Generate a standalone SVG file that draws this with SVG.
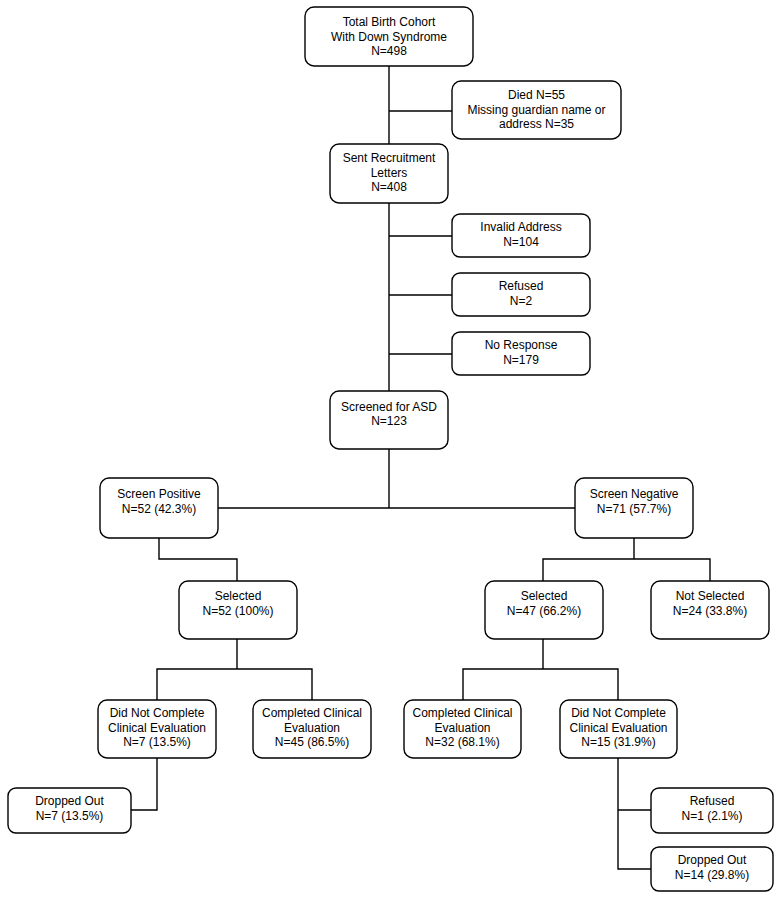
<svg xmlns="http://www.w3.org/2000/svg" width="783" height="901" viewBox="0 0 783 901">
<style>
rect.b{fill:#fff;stroke:#000;stroke-width:1.4}
.c path{fill:none;stroke:#000;stroke-width:1.4}
text{font-family:"Liberation Sans",Arial,sans-serif;font-size:12px;fill:#000;text-anchor:middle}
</style>
<rect width="783" height="901" fill="#fff"/>
<g class="c" id="connectors">
<path d="M389 66V508"/>
<path d="M389 111H452"/>
<path d="M389 236H452M389 295H452M389 354H452"/>
<path d="M218 508H575"/>
<path d="M159 538V559H237V581"/>
<path d="M634 538V559M543 581V559H710V581"/>
<path d="M237 639V669M157 700V669H312V700"/>
<path d="M543 639V669M463 700V669H618V700"/>
<path d="M157 758V810H131"/>
<path d="M618 758V869H651M618 810H651"/>
</g>
<g id="n_total"><rect class="b" x="305" y="7" width="168" height="59" rx="9"/><text x="389" y="26">Total Birth Cohort</text><text x="389" y="40.5">With Down Syndrome</text><text x="389" y="55">N=498</text></g>
<g id="n_died"><rect class="b" x="452" y="81" width="169" height="58" rx="9"/><text x="536.5" y="99">Died N=55</text><text x="536.5" y="113.5">Missing guardian name or</text><text x="536.5" y="128">address N=35</text></g>
<g id="n_sent"><rect class="b" x="330" y="144" width="118" height="59" rx="9"/><text x="389" y="162">Sent Recruitment</text><text x="389" y="176.5">Letters</text><text x="389" y="191">N=408</text></g>
<g id="n_invalid"><rect class="b" x="452" y="214" width="138" height="43" rx="8"/><text x="521" y="231">Invalid Address</text><text x="521" y="245.5">N=104</text></g>
<g id="n_refused1"><rect class="b" x="452" y="273" width="138" height="43" rx="8"/><text x="521" y="290">Refused</text><text x="521" y="304.5">N=2</text></g>
<g id="n_noresp"><rect class="b" x="452" y="332" width="138" height="43" rx="8"/><text x="521" y="349">No Response</text><text x="521" y="363.5">N=179</text></g>
<g id="n_screened"><rect class="b" x="330" y="391" width="118" height="58" rx="9"/><text x="389" y="411">Screened for ASD</text><text x="389" y="425">N=123</text></g>
<g id="n_pos"><rect class="b" x="100" y="478" width="118" height="60" rx="9"/><text x="159" y="498">Screen Positive</text><text x="159" y="512.5">N=52 (42.3%)</text></g>
<g id="n_neg"><rect class="b" x="575" y="478" width="118" height="60" rx="9"/><text x="634" y="498">Screen Negative</text><text x="634" y="512.5">N=71 (57.7%)</text></g>
<g id="n_sel1"><rect class="b" x="179" y="581" width="118" height="58" rx="9"/><text x="238" y="600">Selected</text><text x="238" y="614.5">N=52 (100%)</text></g>
<g id="n_sel2"><rect class="b" x="485" y="581" width="118" height="58" rx="9"/><text x="544" y="600">Selected</text><text x="544" y="614.5">N=47 (66.2%)</text></g>
<g id="n_notsel"><rect class="b" x="651" y="581" width="118" height="58" rx="9"/><text x="710" y="600">Not Selected</text><text x="710" y="614.5">N=24 (33.8%)</text></g>
<g id="n_dnc1"><rect class="b" x="98" y="700" width="118" height="58" rx="9"/><text x="157" y="717">Did Not Complete</text><text x="157" y="731.5">Clinical Evaluation</text><text x="157" y="746">N=7 (13.5%)</text></g>
<g id="n_comp1"><rect class="b" x="253" y="700" width="118" height="58" rx="9"/><text x="312" y="717">Completed Clinical</text><text x="312" y="731.5">Evaluation</text><text x="312" y="746">N=45 (86.5%)</text></g>
<g id="n_comp2"><rect class="b" x="404" y="700" width="117" height="58" rx="9"/><text x="462.5" y="717">Completed Clinical</text><text x="462.5" y="731.5">Evaluation</text><text x="462.5" y="746">N=32 (68.1%)</text></g>
<g id="n_dnc2"><rect class="b" x="560" y="700" width="117" height="58" rx="9"/><text x="618.5" y="717">Did Not Complete</text><text x="618.5" y="731.5">Clinical Evaluation</text><text x="618.5" y="746">N=15 (31.9%)</text></g>
<g id="n_drop1"><rect class="b" x="8" y="788" width="123" height="45" rx="8"/><text x="69.5" y="805">Dropped Out</text><text x="69.5" y="819.5">N=7 (13.5%)</text></g>
<g id="n_refused2"><rect class="b" x="651" y="788" width="122" height="45" rx="8"/><text x="712" y="805">Refused</text><text x="712" y="819.5">N=1 (2.1%)</text></g>
<g id="n_drop2"><rect class="b" x="651" y="847" width="122" height="44" rx="8"/><text x="712" y="864">Dropped Out</text><text x="712" y="878.5">N=14 (29.8%)</text></g>
</svg>
